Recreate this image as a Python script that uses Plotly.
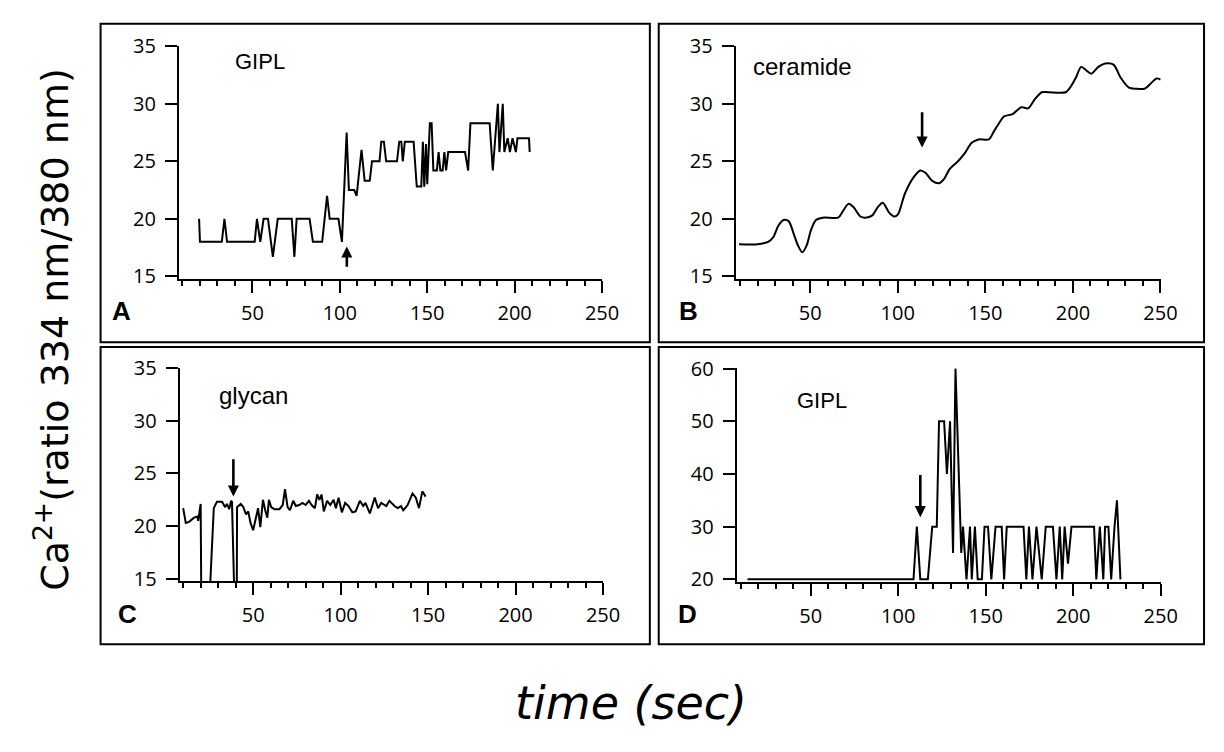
import plotly.graph_objects as go

W, H = 1224, 752

# ---------------- data ----------------
a_time = [19.5, 20, 32.5, 34, 35.5, 51.3, 52.6, 54.5, 56.4, 58.9, 61.7, 64.5, 72.5, 74, 75.3,
          82.7, 84.6, 89.9, 92.7, 94.2, 99.2, 101.2, 103.9, 105.2, 108.2, 109.6, 112.4, 114.2,
          117.1, 118.4, 122.7, 123.7, 125.2, 126.5, 132.7, 134, 135.2, 136, 137.2, 142.2, 144,
          146.6, 147.5, 148.3, 149.3, 150, 151.5, 152.5, 153.5, 155.5, 156.5, 157.5, 158.8,
          159.8, 160.8, 162, 171.6, 173.4, 174.7, 185.7, 187.5, 190.4, 191.3, 193.2, 194.1,
          196, 197.3, 198.8, 200.7, 201.6, 208.2, 208.6]
a_ratio = [20, 18, 18, 20, 18, 18, 20, 18, 20, 20, 16.7, 20, 20, 16.7, 20,
           20, 18, 18, 22, 20, 20, 18, 27.5, 22.5, 22.5, 22, 26, 23.3,
           23.3, 25, 25, 26.7, 26.7, 25, 25, 26.7, 26.7, 25, 26.7, 26.7, 22.8,
           22.8, 26.7, 22.8, 26.5, 23, 28.3, 28.3, 24.2, 24.2, 25.8, 24.2, 24.2,
           25.8, 24.2, 25.8, 25.8, 24.2, 28.3, 28.3, 24.2, 30, 25.8, 30, 25.8,
           27, 25.8, 27, 25.8, 27, 27, 25.8]

b_time = [9.4, 20.1, 26, 28.9, 31.8, 34.8, 37.7, 40.6, 43, 45.5, 48, 50.4, 53.3, 57.2, 66,
          68, 71.9, 74.8, 78.7, 81.6, 85.5, 88.5, 91.4, 95.3, 98.2, 100.2, 104.1, 109, 112.9,
          115.8, 119.7, 123.6, 126.6, 129.5, 134.4, 138.3, 142.2, 146.1, 152, 154.9, 157.8,
          160.7, 165.6, 170.5, 174.4, 178.3, 182.2, 186.1, 195.9, 198.8, 201.8, 204.7, 207.6,
          210.5, 214.5, 218.4, 223.2, 227.1, 232, 235.9, 240.8, 244.7, 247.7, 250]
b_ratio = [17.8, 17.8, 18, 18.4, 19.4, 19.9, 19.8, 18.7, 17.7, 17.1, 17.7, 19, 19.9, 20.1, 20.1,
           20.5, 21.3, 21, 20.2, 20.1, 20.3, 21, 21.4, 20.5, 20.2, 20.4, 22.2, 23.6, 24.2,
           24, 23.3, 23.1, 23.5, 24.3, 25, 25.7, 26.6, 26.9, 26.9, 27.6, 28.3,
           28.9, 29.1, 29.7, 29.6, 30.4, 31, 31, 31, 31.5, 32.3, 33.2, 32.9,
           32.6, 33.2, 33.5, 33.4, 32.3, 31.4, 31.3, 31.3, 31.8, 32.2, 32.1]

c_time = [10, 11.5, 13.4, 16.2, 18.1, 18.6, 20, 20.5, 24.2, 27.5, 29.3, 32.2, 34, 35, 36.3,
          37.4, 37.9, 38.2, 40.5, 40.8, 42.9, 44.4, 45.9, 47.2, 48.5, 50, 51.5, 52.8, 54.1,
          55.6, 56.9, 58.1, 59, 60.3, 62.2, 65, 66.9, 68.2, 69.7, 71, 72.9, 74.4, 76.3, 78.2,
          80, 81.9, 83.4, 85.3, 86.6, 87.9, 89.1, 90.4, 92.3, 94.1, 96, 97.3, 98.8, 100.7,
          102.6, 104.5, 106.7, 108.6, 111, 112.9, 114.2, 116.7, 119.5, 121.4, 123.2, 126.1,
          127.9, 130.8, 132.6, 134.5, 135.8, 138.3, 141.1, 143, 144.8, 146.7, 148.6]
c_ratio = [21.7, 20.3, 20.4, 20.8, 20.9, 20.5, 22.1, 10, 10, 21.7, 22.3, 22.3, 21.8, 22.1, 21.6,
           22.4, 22.3, 5, 5, 21.8, 22.1, 21.8, 21.1, 21.4, 20.3, 19.6, 20.8, 21.7, 19.9,
           22.5, 21.5, 20.8, 22.5, 21.8, 21.6, 21.6, 22, 23.5, 21.8, 21.5, 22.4, 21.9, 22, 22.2,
           22, 22.4, 22, 21.7, 23, 22.5, 23, 21.4, 22.4, 22, 22.5, 21.7, 22.7, 21.3,
           22.2, 21.9, 21.3, 21.4, 22.4, 21.9, 22.2, 21.2, 22.7, 21.7, 22.2, 21.9,
           22.4, 21.9, 21.7, 21.9, 21.5, 22, 23.1, 22.7, 21.7, 23.3, 22.8]

d_time = [13.8, 108.7, 110.6, 112.6, 116.9, 119.4, 122, 123.3, 126.2, 127.8, 129.6, 131.3, 132.7,
          136, 137, 139, 141, 142, 143.8, 145.4, 147.8, 149.3, 151.3, 153.2, 155.6, 159.1,
          160.5, 162, 171.6, 173.2, 174.7, 176.7, 179, 182, 184.3, 188.4, 190.4, 192.3, 193.7,
          195.1, 197, 199, 211.9, 213.2, 215.2, 217.2, 218.2, 220.1, 221.7, 223.6, 225, 227]
d_ratio = [20, 20, 30, 20, 20, 30, 30, 50, 50, 40, 50, 25, 60,
           25, 30, 20, 30, 20, 30, 20, 20, 30, 30, 20, 30, 30,
           20, 30, 30, 20, 30, 20, 30, 20, 30, 30, 20, 30, 20,
           30, 23, 30, 30, 20, 30, 20, 30, 30, 20, 30, 35, 20]

panel_letters = ["A", "B", "C", "D"]
panel_names = ["GIPL", "ceramide", "glycan", "GIPL"]
x_ticks = [50, 100, 150, 200, 250]
y_ticks_abc = [15, 20, 25, 30, 35]
y_ticks_d = [20, 30, 40, 50, 60]

# arrows: (time, head value, tail value)
arrow_a = (104, 17.6, 15.7)
arrow_b = (113.9, 26.2, 29.4)
arrow_c = (38.7, 22.8, 26.5)
arrow_d = (112.6, 31.8, 40.1)

y_title = "Ca<sup>2+</sup>(ratio 334 nm/380 nm)"
x_title = "time (sec)"

# ---------------- layout helpers ----------------
def px_x(p):
    return p / W

def px_y(p):
    return 1 - p / H

TICKFONT = dict(family="Open Sans", size=20, color="black")


def xcfg(left_px, right_px, rng, anchor):
    return dict(domain=[px_x(left_px), px_x(right_px)], range=rng, anchor=anchor,
                showline=True, linecolor="black", linewidth=2,
                ticks="outside", ticklen=12, tickwidth=1.6, tickcolor="black",
                tickvals=x_ticks, showgrid=False, zeroline=False, tickfont=TICKFONT,
                ticklabelstandoff=3,
                minor=dict(ticks="outside", ticklen=5, tickwidth=1.6, tickcolor="black",
                           tick0=0, dtick=10, showgrid=False),
                fixedrange=True)


def ycfg(top_px, bottom_px, rng, anchor, vals):
    return dict(domain=[px_y(bottom_px), px_y(top_px)], range=rng, anchor=anchor,
                showline=True, linecolor="black", linewidth=2,
                ticks="outside", ticklen=12, tickwidth=1.6, tickcolor="black",
                tickvals=vals, showgrid=False, zeroline=False, tickfont=TICKFONT,
                ticklabelstandoff=5, fixedrange=True)


fig = go.Figure()
line = dict(color="black", width=2)
fig.add_trace(go.Scatter(x=a_time, y=a_ratio, mode="lines", line=line, xaxis="x", yaxis="y"))
fig.add_trace(go.Scatter(x=b_time, y=b_ratio, mode="lines",
                         line=dict(color="black", width=2, shape="spline", smoothing=0.8),
                         xaxis="x2", yaxis="y2"))
fig.add_trace(go.Scatter(x=c_time, y=c_ratio, mode="lines", line=line, xaxis="x3", yaxis="y3"))
fig.add_trace(go.Scatter(x=d_time, y=d_ratio, mode="lines", line=line, xaxis="x4", yaxis="y4"))

layout = dict(
    width=W, height=H, margin=dict(l=0, r=0, t=0, b=0),
    paper_bgcolor="white", plot_bgcolor="white", showlegend=False,
    xaxis=xcfg(181.5, 610.9, [8, 250.2], "y"),
    yaxis=ycfg(33, 274, [14.75, 35.02], "x", y_ticks_abc),
    xaxis2=xcfg(746.1, 1177.2, [7.5, 250.2], "y2"),
    yaxis2=ycfg(33, 274, [14.75, 35.02], "x2", y_ticks_abc),
    xaxis3=xcfg(182.2, 611.9, [8, 250.2], "y3"),
    yaxis3=ycfg(365.7, 586, [14.75, 35.02], "x3", y_ticks_abc),
    xaxis4=xcfg(747, 1177.4, [7.6, 250.2], "y4"),
    yaxis4=ycfg(366, 586.7, [19.5, 60.05], "x4", y_ticks_d),
)
fig.update_layout(**layout)

# panel boxes
boxes = [(102, 10, 659, 339), (668, 10, 1221, 339), (102, 344, 659, 651), (668, 344, 1221, 651)]
for x0, y0, x1, y1 in boxes:
    fig.add_shape(type="rect", xref="paper", yref="paper",
                  x0=px_x(x0), x1=px_x(x1), y0=px_y(y1), y1=px_y(y0),
                  line=dict(color="black", width=2), fillcolor="rgba(0,0,0,0)")

# panel letters
letter_pos = [(123, 307), (698, 307), (129, 620), (697, 620)]
for lt, (lx, ly) in zip(panel_letters, letter_pos):
    fig.add_annotation(text=lt, xref="paper", yref="paper", x=px_x(lx), y=px_y(ly),
                       showarrow=False, xanchor="center", yanchor="middle",
                       font=dict(family="Liberation Sans", size=26, color="black", weight="bold"))

# panel names (placed in data coordinates)
name_pos = [("x", "y", 54.5, 33.7, 22), ("x2", "y2", 45.5, 33.2, 24),
            ("x3", "y3", 50.4, 32.4, 24), ("x4", "y4", 56.3, 54.0, 22)]
for nm, (xr, yr, nx, ny, fs) in zip(panel_names, name_pos):
    fig.add_annotation(text=nm, xref=xr, yref=yr, x=nx, y=ny, showarrow=False,
                       xanchor="center", yanchor="middle",
                       font=dict(family="Liberation Sans", size=fs, color="black"))

# arrows
for (xr, yr), (ax_t, head, tail) in zip([("x", "y"), ("x2", "y2"), ("x3", "y3"), ("x4", "y4")],
                                        [arrow_a, arrow_b, arrow_c, arrow_d]):
    fig.add_annotation(x=ax_t, y=head, ax=ax_t, ay=tail, xref=xr, yref=yr, axref=xr, ayref=yr,
                       text="", showarrow=True, arrowhead=2, arrowsize=0.85, arrowwidth=2.6,
                       arrowcolor="black", standoff=0, startstandoff=0)

# axis titles
fig.add_annotation(text=y_title, xref="paper", yref="paper", x=px_x(52), y=px_y(326),
                   textangle=-90, showarrow=False, xanchor="center", yanchor="middle",
                   font=dict(family="DejaVu Sans", size=38, color="black"))
fig.add_annotation(text=x_title, xref="paper", yref="paper", x=px_x(640), y=px_y(712),
                   showarrow=False, xanchor="center", yanchor="middle",
                   font=dict(family="DejaVu Sans", size=46, color="black", style="italic"))

fig.write_html("out.html", config={"displayModeBar": False},
               post_script="document.body.style.margin='0';")
